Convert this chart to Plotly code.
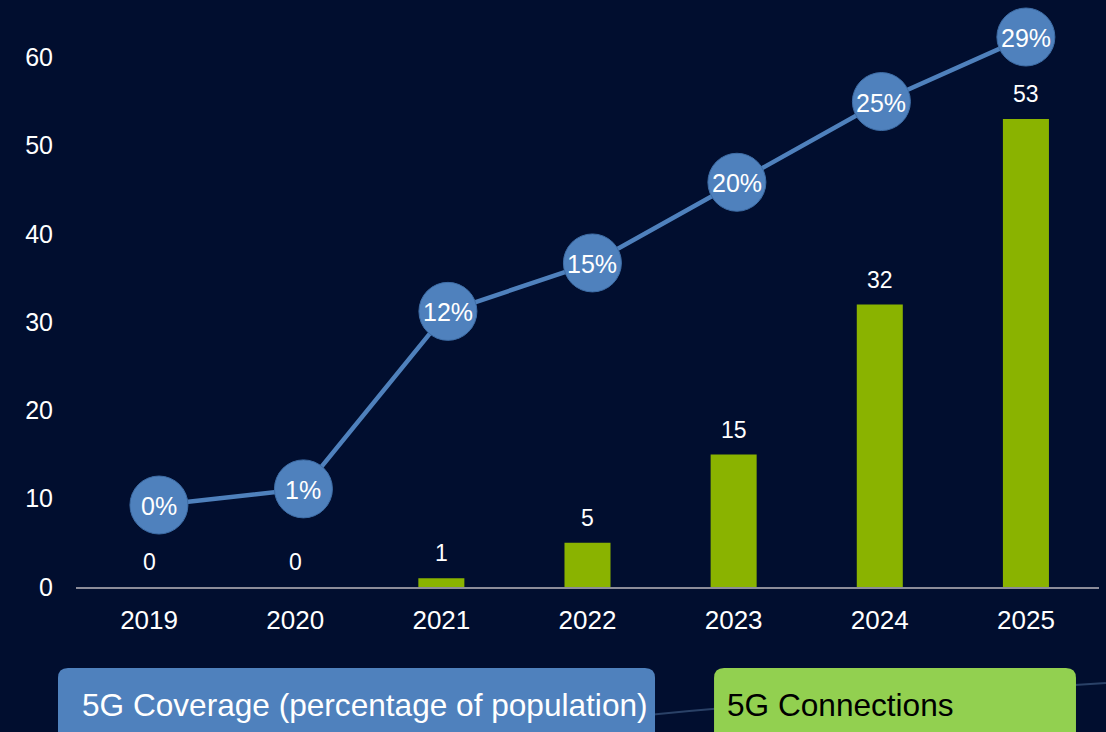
import plotly.graph_objects as go

years = ["2019", "2020", "2021", "2022", "2023", "2024", "2025"]
connections = [0, 0, 1, 5, 15, 32, 53]
coverage = [0, 1, 12, 15, 20, 25, 29]
coverage_labels = [f"{v}%" for v in coverage]
y_ticks = [0, 10, 20, 30, 40, 50, 60]

FONT = "Liberation Sans, Arial, sans-serif"
BLUE = "#4F81BD"
BAR_GREEN = "#8AB300"
LEGEND_GREEN = "#92D050"

fig = go.Figure()

fig.add_trace(go.Bar(
    x=years, y=connections, name="5G Connections",
    marker=dict(color=BAR_GREEN, line=dict(width=0)),
    xaxis="x", yaxis="y",
))

fig.add_trace(go.Scatter(
    x=years, y=coverage, name="5G Coverage (percentage of population)",
    mode="lines+markers",
    line=dict(color=BLUE, width=4.5),
    marker=dict(size=58, color=BLUE, line=dict(color="#3E6DA6", width=1)),
    cliponaxis=False, xaxis="x2", yaxis="y2",
))

annotations = []
# category axes: annotations address categories by their index
for i, v in enumerate(connections):
    annotations.append(dict(
        x=i, y=v, xref="x", yref="y", text=str(v), showarrow=False,
        yanchor="middle", yshift=25,
        font=dict(size=23, color="white", family=FONT)))
for i, (v, lab) in enumerate(zip(coverage, coverage_labels)):
    annotations.append(dict(
        x=i, y=v, xref="x2", yref="y2", text=lab, showarrow=False,
        yanchor="middle", yshift=-1,
        font=dict(size=25, color="white", family=FONT)))

annotations += [
    dict(text="5G Coverage (percentage of population)", xref="paper", yref="paper",
         x=0.0039, y=-0.2088, xanchor="left", yanchor="middle", showarrow=False,
         font=dict(size=31.6, color="white", family=FONT)),
    dict(text="5G Connections", xref="paper", yref="paper",
         x=0.6345, y=-0.2088, xanchor="left", yanchor="middle", showarrow=False,
         font=dict(size=31.6, color="black", family=FONT)),
]


def rounded_top_box(x0, x1, y0, y1, rx=0.0098, ry=0.0177):
    return (f"M {x0 + rx},{y1} L {x1 - rx},{y1} Q {x1},{y1} {x1},{y1 - ry} "
            f"L {x1},{y0} L {x0},{y0} L {x0},{y1 - ry} Q {x0},{y1} {x0 + rx},{y1} Z")


fig.update_layout(
    width=1106, height=732,
    margin=dict(l=76, r=7, t=22, b=145),
    paper_bgcolor="#010e2f", plot_bgcolor="rgba(0,0,0,0)",
    showlegend=False,
    bargap=0.685,
    font=dict(family=FONT, color="white"),
    xaxis=dict(
        type="category", showgrid=False, showline=True,
        range=[-0.5, len(years) - 0.5],
        linecolor="#8c8c99", linewidth=1.5, ticks="",
        tickfont=dict(size=26, color="white", family=FONT),
        ticklabelstandoff=9, zeroline=False,
    ),
    xaxis2=dict(
        type="category", overlaying="x", visible=False,
        range=[-0.574, len(years) - 0.494],
    ),
    yaxis=dict(
        range=[0, 64], tickvals=y_ticks, showgrid=False, zeroline=False,
        showline=False, tickfont=dict(size=25, color="white", family=FONT),
        ticklabelstandoff=22,
    ),
    yaxis2=dict(
        range=[-5.08, 29.93], overlaying="y", side="right", visible=False,
        showgrid=False, zeroline=False,
    ),
    shapes=[
        dict(type="path", xref="paper", yref="paper",
             path="M 0.5318,-0.2319 Q 0.6237,-0.2142 0.70,-0.2050 L 1.0068,-0.1699",
             line=dict(color="rgba(120,160,210,0.35)", width=2)),
        dict(type="path", xref="paper", yref="paper",
             path=rounded_top_box(-0.0176, 0.566, -0.28, -0.1434),
             fillcolor=BLUE, line=dict(width=0)),
        dict(type="path", xref="paper", yref="paper",
             path=rounded_top_box(0.6237, 0.9775, -0.28, -0.1434),
             fillcolor=LEGEND_GREEN, line=dict(width=0)),
    ],
    annotations=annotations,
)

fig.write_html("out.html", config={"displayModeBar": False},
               post_script="document.body.style.margin='0';")
